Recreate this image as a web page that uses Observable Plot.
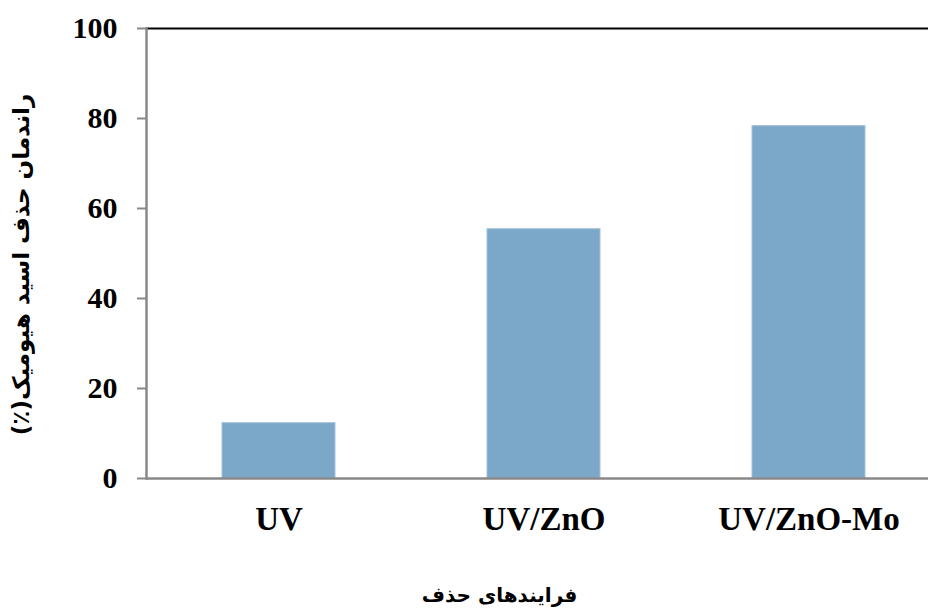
<!DOCTYPE html>
<html>
<head>
<meta charset="utf-8">
<script src="https://cdn.jsdelivr.net/npm/d3@7"></script>
<script src="https://cdn.jsdelivr.net/npm/@observablehq/plot@0.6"></script>
<style>
  body { margin: 0; background: #fff; }
  #chart svg { display: block; }
</style>
</head>
<body>
<div id="chart"></div>
<script>
const processes = ["UV", "UV/ZnO", "UV/ZnO-Mo"];
const removal = [12.3, 55.4, 78.3];
const yTicks = [0, 20, 40, 60, 80, 100];
const yTitle = "\u202Bراندمان حذف اسید هیومیک(٪)\u202C";
const xTitle = "\u202Bفرایندهای حذف\u202C";

const data = processes.map((p, i) => ({process: p, value: removal[i]}));

const chart = Plot.plot({
  width: 928,
  height: 610,
  marginLeft: 146,
  marginRight: 0,
  marginTop: 28,
  marginBottom: 132,
  style: {background: "#fff"},
  x: {domain: processes, range: [146, 941], paddingInner: 0.573, paddingOuter: 0.2865},
  y: {domain: [0, 100], ticks: yTicks},
  marks: [
    Plot.barY(data, {x: "process", y: "value", fill: "#7ba7c9", stroke: "#a3c2da", strokeWidth: 1}),
    Plot.ruleY([100], {stroke: "#000", strokeWidth: 2}),
    Plot.ruleY([0], {stroke: "#888", strokeWidth: 2.5}),
    Plot.frame({anchor: "left", stroke: "#888", strokeWidth: 2.5}),
    Plot.axisY({ticks: yTicks, tickSize: 9, tickPadding: 20, stroke: "#888", strokeWidth: 2,
      fontSize: 30, fontWeight: "bold", fontFamily: "Liberation Serif", fill: "#000", label: null}),
    Plot.axisX({tickSize: 0, tickPadding: 28, fontSize: 33, fontWeight: "bold",
      fontFamily: "Liberation Serif", fill: "#000", label: null}),
    Plot.text([yTitle], {frameAnchor: "left", textAnchor: "middle", rotate: -90, dx: -125, dy: 11,
      fontSize: 23, fontWeight: "bold", fontFamily: "DejaVu Sans", fill: "#000"}),
    Plot.text([xTitle], {frameAnchor: "bottom", textAnchor: "middle", dx: -38, dy: 123,
      fontSize: 20, fontWeight: "bold", fontFamily: "DejaVu Sans", fill: "#000"})
  ]
});
document.getElementById("chart").append(chart);
</script>
</body>
</html>
